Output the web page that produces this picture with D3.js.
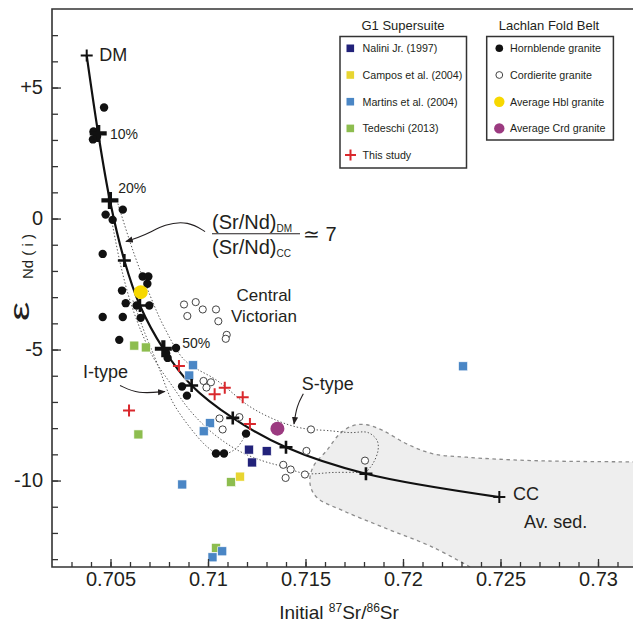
<!DOCTYPE html>
<html>
<head>
<meta charset="utf-8">
<script src="https://cdn.jsdelivr.net/npm/d3@7"></script>
<style>
  body { margin: 0; background: #fff; }
  svg text { font-family: "Liberation Sans", Arial, Helvetica, sans-serif; fill: #231f20; }
</style>
</head>
<body>
<svg id="chart" width="633" height="625"></svg>
<script>
// ---- Sr–Nd mixing hyperbola, DM to CC in 10 % steps ----
const mixStep = ["DM", "10%", "20%", "30%", "40%", "50%", "60%", "70%", "80%", "90%", "CC"];
const mixSr = [0.70378, 0.70437, 0.70497, 0.70571, 0.70651, 0.70771, 0.70916, 0.71127, 0.71400, 0.71810, 0.72494];
const mixNd = [6.22, 3.25, 0.69, -1.60, -3.32, -4.97, -6.37, -7.61, -8.73, -9.74, -10.63];

// ---- Lachlan Fold Belt granites [87Sr/86Sr(i), eNd(i)] ----
const hornblende = [
  [0.70467, 4.24], [0.70413, 3.32], [0.70410, 3.02], [0.70431, 3.13],
  [0.70563, 0.34], [0.70475, 0.15], [0.70511, -0.05], [0.70460, -1.35],
  [0.70665, -2.21], [0.70694, -2.21], [0.70689, -2.49], [0.70559, -2.75],
  [0.70578, -3.23], [0.70634, -3.32], [0.70699, -3.32], [0.70460, -3.76],
  [0.70563, -3.76], [0.70655, -3.79], [0.70545, -4.63], [0.70836, -4.94],
  [0.70785, -5.14], [0.70793, -5.32], [0.70867, -6.41], [0.70892, -6.76],
  [0.71195, -8.21], [0.71041, -8.97], [0.71082, -8.97]
];
const cordierite = [
  [0.70877, -3.28], [0.70937, -3.19], [0.70973, -3.47], [0.71041, -3.47],
  [0.70894, -3.72], [0.71053, -3.92], [0.71096, -4.44], [0.71091, -4.59],
  [0.70977, -6.20], [0.71015, -6.25], [0.70992, -6.45], [0.71059, -7.63],
  [0.71075, -8.05], [0.71161, -7.58], [0.71528, -8.05], [0.71505, -8.87],
  [0.71386, -9.40], [0.71424, -9.58], [0.71398, -9.90], [0.71497, -9.77],
  [0.71805, -9.24]
];
const avgHbl = [0.70655, -2.81];
const avgCrd = [0.71356, -8.02];

// ---- G1 Supersuite ----
const nalini = [[0.71210, -8.82], [0.71301, -8.88], [0.71226, -9.31]];
const campos = [[0.71164, -9.85]];
const martins = [
  [0.70923, -5.60], [0.70904, -5.99], [0.71010, -7.81], [0.70978, -8.12],
  [0.70868, -10.15], [0.71023, -12.93], [0.71073, -12.70], [0.72308, -5.64]
];
const tedeschi = [[0.70622, -4.85], [0.70681, -4.92], [0.70643, -8.24], [0.71118, -10.06], [0.71041, -12.57]];
const thisStudy = [[0.70851, -5.63], [0.71034, -6.71], [0.71086, -6.46], [0.71178, -6.82], [0.71215, -7.84], [0.70595, -7.33]];

// ---- fields (outlines in data units) ----
const avSedField = [
  [0.72344, -13.3], [0.72154, -12.55], [0.71897, -11.78], [0.71692, -11.15], [0.71557, -10.64],
  [0.71523, -10.11], [0.71538, -9.49], [0.71609, -8.85], [0.71677, -8.21], [0.71744, -7.90],
  [0.71814, -7.87], [0.71897, -8.09], [0.72019, -8.60], [0.72154, -8.98], [0.72327, -9.11],
  [0.72667, -9.24], [0.7325, -9.29]
];
const envelopeUpper = [
  [0.70538, 0.57], [0.70615, -1.22], [0.70703, -2.94], [0.70779, -4.20], [0.70882, -5.42],
  [0.71046, -6.18], [0.71215, -7.18], [0.71354, -7.71], [0.71456, -7.96], [0.71528, -8.05],
  [0.71610, -8.09], [0.71728, -8.17], [0.71821, -8.17], [0.71867, -8.47], [0.71872, -8.85],
  [0.71846, -9.35], [0.71810, -9.69]
];
const envelopeLower = [
  [0.70508, -0.15], [0.70549, -1.68], [0.70600, -3.13], [0.70662, -4.39], [0.70728, -5.42],
  [0.70815, -6.37], [0.70908, -7.33], [0.71021, -8.17], [0.71154, -8.85], [0.71277, -9.24],
  [0.71385, -9.47], [0.71497, -9.73], [0.71651, -9.69], [0.71810, -9.69]
];
const envelopeIType = [
  [0.70615, -3.13], [0.70677, -4.39], [0.70744, -5.61], [0.70815, -6.95], [0.70908, -7.98],
  [0.71000, -8.74], [0.71062, -9.01], [0.71144, -8.78], [0.71195, -8.21]
];

// ---- axis ticks ----
const xMajor = [0.705, 0.71, 0.715, 0.72, 0.725, 0.73];
const xMinor = d3.range(703, 733).map(d => d / 1000);
const yMajor = [-10, -5, 0, 5];
const yMinor = d3.range(-13, 8);

const svg = d3.select("#chart");
const x = d3.scaleLinear().domain([0.702, 0.732]).range([52, 637]);
const y = d3.scaleLinear().domain([-13.3, 8]).range([567, 8.94]);
const ink = "#231f20";

const defs = svg.append("defs");
defs.append("clipPath").attr("id", "plot")
  .append("rect").attr("x", 52).attr("y", y(8)).attr("width", 600).attr("height", y(-13.3) - y(8));
defs.append("marker").attr("id", "head").attr("viewBox", "0 0 10 10")
  .attr("refX", 9).attr("refY", 5).attr("markerWidth", 7).attr("markerHeight", 7)
  .attr("orient", "auto")
  .append("path").attr("d", "M0,1 L10,5 L0,9 Z").attr("fill", ink);

const plot = svg.append("g").attr("clip-path", "url(#plot)");
const px = d => x(d[0]), py = d => y(d[1]);

// Av. sed. field
const smooth = d3.line().x(px).y(py).curve(d3.curveCatmullRom.alpha(0.5));
plot.append("path")
  .attr("d", smooth(avSedField) + `L${x(0.7325)},${y(-13.3)}Z`)
  .attr("fill", "#eeeeee").attr("stroke", "none");
plot.append("path").attr("d", smooth(avSedField))
  .attr("fill", "none").attr("stroke", "#8c8c8c").attr("stroke-width", 1.3).attr("stroke-dasharray", "3.5,3.5");

// dotted envelopes
[envelopeUpper, envelopeLower, envelopeIType].forEach(pts => {
  plot.append("path").attr("d", smooth(pts))
    .attr("fill", "none").attr("stroke", "#555").attr("stroke-width", 1).attr("stroke-dasharray", "1.4,2");
});

// mixing curve
const mix = mixSr.map((s, i) => [s, mixNd[i]]);
plot.append("path").attr("d", smooth(mix))
  .attr("fill", "none").attr("stroke", "#111").attr("stroke-width", 2.2);

// frame and axes
const axisColor = "#333";
const gy = svg.append("g").attr("transform", "translate(52,0)");
gy.call(d3.axisLeft(y).tickValues(yMinor).tickSize(-6).tickSizeOuter(0).tickFormat(""));
gy.call(g => g.select(".domain").remove());
const gyMaj = svg.append("g").attr("transform", "translate(52,0)");
gyMaj.call(d3.axisLeft(y).tickValues(yMajor).tickSize(-9).tickSizeOuter(0).tickPadding(9)
  .tickFormat(d => d > 0 ? "+" + d : String(d)));
gyMaj.selectAll("text").style("font-size", "20px");
gyMaj.select(".domain").remove();

const gx = svg.append("g").attr("transform", "translate(0,567)");
gx.call(d3.axisBottom(x).tickValues(xMinor).tickSize(-5).tickSizeOuter(0).tickFormat(""));
gx.select(".domain").remove();
const gxMaj = svg.append("g").attr("transform", "translate(0,567)");
gxMaj.call(d3.axisBottom(x).tickValues(xMajor).tickSize(-8).tickSizeOuter(0).tickPadding(5)
  .tickFormat(d => String(+d.toFixed(3))));
gxMaj.selectAll("text").style("font-size", "20px");
gxMaj.select(".domain").remove();
svg.selectAll(".tick line").attr("stroke", axisColor).attr("stroke-width", 1.3);
svg.selectAll(".tick text").attr("fill", ink);

svg.append("path")
  .attr("d", `M633,${y(8)}H52V567H633`)
  .attr("fill", "none").attr("stroke", axisColor).attr("stroke-width", 1.6);

// annotation arrows
const arrowLine = d3.line().x(px).y(py).curve(d3.curveBasis);
const arrows = [
  [[0.70985, -0.50], [0.70900, -0.10], [0.70779, -0.20], [0.70677, -0.65], [0.70579, -0.88]],
  [[0.70549, -6.37], [0.70640, -6.70], [0.70779, -6.60]],
  [[0.71489, -6.69], [0.71455, -7.15], [0.71441, -7.84]]
];
arrows.forEach(a => {
  svg.append("path").attr("d", arrowLine(a)).attr("fill", "none")
    .attr("stroke", ink).attr("stroke-width", 1.1).attr("marker-end", "url(#head)");
});

// data layers
const sq = 9;
function squares(data, color) {
  plot.selectAll(null).data(data).enter().append("rect")
    .attr("x", d => px(d) - sq / 2).attr("y", d => py(d) - sq / 2)
    .attr("width", sq).attr("height", sq)
    .attr("fill", color).attr("stroke", "#fff").attr("stroke-width", 0.6);
}
function cross(sel, arm, w, color) {
  sel.attr("d", `M${-arm},0H${arm}M0,${-arm}V${arm}`)
    .attr("stroke", color).attr("stroke-width", w).attr("fill", "none");
}

plot.selectAll(null).data(cordierite).enter().append("circle")
  .attr("cx", px).attr("cy", py).attr("r", 3.6)
  .attr("fill", "#fff").attr("stroke", "#444").attr("stroke-width", 1);
plot.selectAll(null).data(hornblende).enter().append("circle")
  .attr("cx", px).attr("cy", py).attr("r", 4.2).attr("fill", "#111");

squares(tedeschi, "#8dbd4f");
squares(campos, "#e8d531");
squares(martins, "#4a86c5");
squares(nalini, "#22227a");

plot.append("circle").attr("cx", px(avgHbl)).attr("cy", py(avgHbl)).attr("r", 7).attr("fill", "#f7d800");
plot.append("circle").attr("cx", px(avgCrd)).attr("cy", py(avgCrd)).attr("r", 7).attr("fill", "#9b3a80");

plot.selectAll(null).data(thisStudy).enter().append("path")
  .attr("transform", d => `translate(${px(d)},${py(d)})`)
  .call(cross, 6, 2, "#d9282d");

// mixing nodes
const bigNodes = ["10%", "20%", "50%"];
mix.forEach((d, i) => {
  const lab = mixStep[i];
  const big = bigNodes.includes(lab);
  const end = lab === "DM" || lab === "CC";
  plot.append("path").attr("transform", `translate(${px(d)},${py(d)})`)
    .call(cross, big ? 8.5 : (end ? 6 : 6.5), big ? 4.2 : (end ? 2 : 2.6), "#111");
});

// text annotations (anchored in data units)
const labels = [
  { t: "DM", at: [0.704426, 6.00], size: 18 },
  { t: "10%", at: [0.704974, 3.02], size: 14 },
  { t: "20%", at: [0.705400, 0.97], size: 14 },
  { t: "50%", at: [0.708682, -4.95], size: 14 },
  { t: "CC", at: [0.725641, -10.75], size: 18 },
  { t: "Av. sed.", at: [0.726205, -11.82], size: 18 },
  { t: "I-type", at: [0.703590, -6.10], size: 18 },
  { t: "S-type", at: [0.714805, -6.55], size: 18 },
  { t: "Central", at: [0.712872, -3.16], size: 17, mid: true },
  { t: "Victorian", at: [0.712872, -3.94], size: 17, mid: true }
];
labels.forEach(l => {
  svg.append("text").attr("x", x(l.at[0])).attr("y", y(l.at[1]))
    .attr("text-anchor", l.mid ? "middle" : "start")
    .style("font-size", l.size + "px").text(l.t);
});

// (Sr/Nd)DM / (Sr/Nd)CC ≃ 7
const frac = { left: 0.710205, right: 0.714718, num: -0.41, bar: -0.58, den: -1.34, eq: [0.714872, -0.87] };
const num = svg.append("text").attr("x", x(frac.left)).attr("y", y(frac.num)).style("font-size", "20px");
num.append("tspan").text("(Sr/Nd)");
num.append("tspan").attr("dy", 3).style("font-size", "10px").text("DM");
svg.append("line").attr("x1", x(frac.left)).attr("x2", x(frac.right))
  .attr("y1", y(frac.bar)).attr("y2", y(frac.bar)).attr("stroke", ink).attr("stroke-width", 1.2);
const den = svg.append("text").attr("x", x(frac.left)).attr("y", y(frac.den)).style("font-size", "20px");
den.append("tspan").text("(Sr/Nd)");
den.append("tspan").attr("dy", 3).style("font-size", "10px").text("CC");
svg.append("text").attr("x", x(frac.eq[0])).attr("y", y(frac.eq[1])).style("font-size", "20px").text("\u2243 7");

// axis titles
const xt = svg.append("text").attr("x", 339).attr("y", 619).attr("text-anchor", "middle").style("font-size", "19px");
xt.append("tspan").text("Initial ");
xt.append("tspan").attr("dy", -7).style("font-size", "12px").text("87");
xt.append("tspan").attr("dy", 7).text("Sr/");
xt.append("tspan").attr("dy", -7).style("font-size", "12px").text("86");
xt.append("tspan").attr("dy", 7).text("Sr");

svg.append("text").attr("transform", "translate(29,321) rotate(-90) scale(1.6,1)")
  .style("font-size", "27px").text("\u03b5");
svg.append("text").attr("transform", "translate(33,279) rotate(-90)")
  .style("font-size", "15px").text("Nd ( i )");

// legends
const g1 = [
  { name: "Nalini Jr. (1997)", color: "#22227a" },
  { name: "Campos et al. (2004)", color: "#e8d531" },
  { name: "Martins et al. (2004)", color: "#4a86c5" },
  { name: "Tedeschi (2013)", color: "#8dbd4f" },
  { name: "This study", color: "#d9282d", cross: true }
];
const lfb = [
  { name: "Hornblende granite", fill: "#111", r: 3.8 },
  { name: "Cordierite granite", fill: "#fff", stroke: "#444", r: 3.4 },
  { name: "Average Hbl granite", fill: "#f7d800", r: 5.2 },
  { name: "Average Crd granite", fill: "#9b3a80", r: 5.2 }
];
const rowY = i => 48.3 + i * 26.7;
const legendFont = "10.7px";

svg.append("text").attr("x", 403).attr("y", 30).attr("text-anchor", "middle").style("font-size", "13px").text("G1 Supersuite");
svg.append("rect").attr("x", 340).attr("y", 36.5).attr("width", 126.5).attr("height", 131.5)
  .attr("fill", "#fff").attr("stroke", "#333").attr("stroke-width", 1.5);
g1.forEach((e, i) => {
  if (e.cross) {
    svg.append("path").attr("transform", `translate(350.5,${rowY(i)})`).call(cross, 5.5, 2, e.color);
  } else {
    svg.append("rect").attr("x", 346.5).attr("y", rowY(i) - 3.8).attr("width", 7.6).attr("height", 7.6).attr("fill", e.color);
  }
  svg.append("text").attr("x", 362.5).attr("y", rowY(i) + 4).style("font-size", legendFont).text(e.name);
});

svg.append("text").attr("x", 549).attr("y", 30).attr("text-anchor", "middle").style("font-size", "13px").text("Lachlan Fold Belt");
svg.append("rect").attr("x", 486.7).attr("y", 36.5).attr("width", 126.7).attr("height", 103.5)
  .attr("fill", "#fff").attr("stroke", "#333").attr("stroke-width", 1.5);
lfb.forEach((e, i) => {
  svg.append("circle").attr("cx", 499.3).attr("cy", rowY(i)).attr("r", e.r)
    .attr("fill", e.fill).attr("stroke", e.stroke || "none").attr("stroke-width", 1);
  svg.append("text").attr("x", 510).attr("y", rowY(i) + 4).style("font-size", legendFont).text(e.name);
});
</script>
</body>
</html>
